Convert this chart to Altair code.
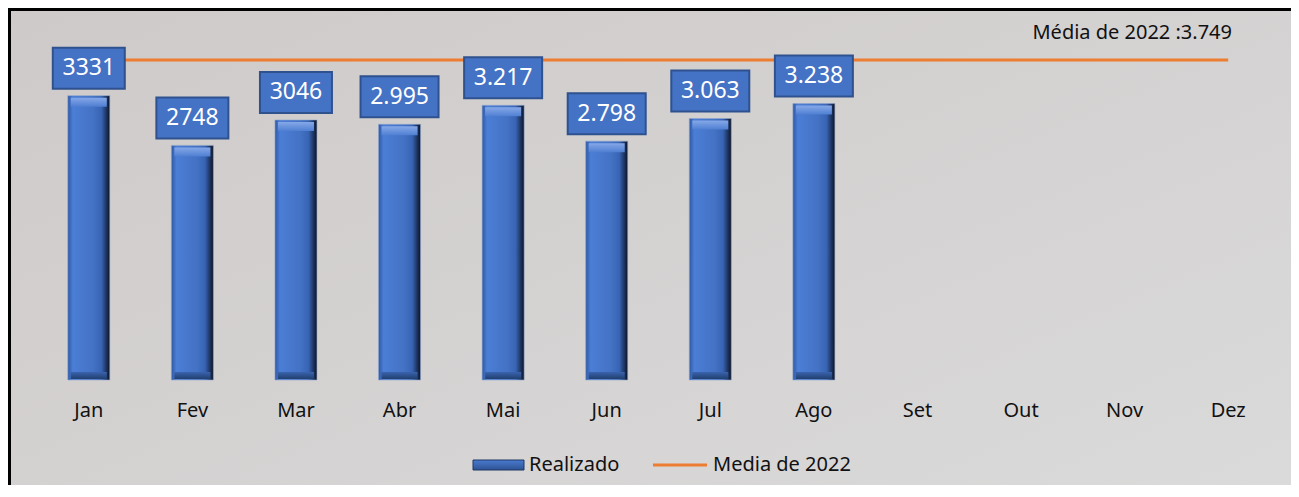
import altair as alt
import pandas as pd

meses = ["Jan", "Fev", "Mar", "Abr", "Mai", "Jun", "Jul", "Ago", "Set", "Out", "Nov", "Dez"]
meses_realizados = ["Jan", "Fev", "Mar", "Abr", "Mai", "Jun", "Jul", "Ago"]
realizado = [3331, 2748, 3046, 2995, 3217, 2798, 3063, 3238]
rotulos = ["3331", "2748", "3046", "2.995", "3.217", "2.798", "3.063", "3.238"]
media_2022 = 3749
media_rotulo = "Média de 2022 :3.749"

df_bar = pd.DataFrame({"mes": meses_realizados, "valor": realizado, "rotulo": rotulos})
df_media = pd.DataFrame({"mes": meses, "media": [media_2022] * len(meses)})
df_one = pd.DataFrame({"k": [0]})

W, H = 1243, 360
FONT = "Noto Sans"

x_enc = alt.X(
    "mes:N",
    sort=meses,
    scale=alt.Scale(domain=meses, paddingInner=0, paddingOuter=0),
    axis=alt.Axis(title=None, labelAngle=0, ticks=False, tickSize=0, domain=False, zindex=1,
                  labelFontSize=20, labelFont=FONT, labelFontWeight="normal",
                  labelColor="#111111", labelPadding=20),
)
y_scale = alt.Scale(domain=[0, 4217], nice=False, zero=True)

bg = alt.Chart(df_one).mark_rect(
    fill=alt.Gradient(gradient="linear", x1=0, y1=0, x2=1, y2=1,
                      stops=[alt.GradientStop(color="#CECAC9", offset=0),
                             alt.GradientStop(color="#DCDCDC", offset=1)]),
    stroke="#000000", strokeWidth=3,
).encode(x=alt.value(-27.5), x2=alt.value(W + 60), y=alt.value(-10.5), y2=alt.value(H + 200))

bar_grad = alt.Gradient(
    gradient="linear", x1=0, y1=0, x2=1, y2=0,
    stops=[alt.GradientStop(color="#2F58A3", offset=0),
           alt.GradientStop(color="#4B7ED6", offset=0.12),
           alt.GradientStop(color="#4472C4", offset=0.6),
           alt.GradientStop(color="#3864B4", offset=0.8),
           alt.GradientStop(color="#1B2F57", offset=0.93),
           alt.GradientStop(color="#0B1426", offset=1)],
)

bars = alt.Chart(df_bar).mark_bar(size=42, color=bar_grad, stroke="#8FA6CF", strokeWidth=0.6).encode(
    x=x_enc, y=alt.Y("valor:Q", scale=y_scale, axis=None)
)

bevel_top = alt.Chart(df_bar).mark_bar(
    size=36,
    color=alt.Gradient(gradient="linear", x1=0, y1=0, x2=0, y2=1,
                       stops=[alt.GradientStop(color="#86A8E8", offset=0),
                              alt.GradientStop(color="#4F7FD2", offset=1)]),
    yOffset=2, y2Offset=11,
).encode(x=x_enc, y=alt.Y("valor:Q", scale=y_scale, axis=None), y2="valor:Q")

bevel_bot = alt.Chart(df_bar).mark_bar(
    size=36,
    color=alt.Gradient(gradient="linear", x1=0, y1=0, x2=0, y2=1,
                       stops=[alt.GradientStop(color="#3A63AE", offset=0),
                              alt.GradientStop(color="#22406F", offset=1)]),
    yOffset=-8, y2Offset=-1,
).encode(x=x_enc, y=alt.Y(datum=0, scale=y_scale, axis=None), y2=alt.Y2(datum=0))

line = alt.Chart(df_media).mark_line(color="#ED7D31", strokeWidth=3).encode(
    x=x_enc, y=alt.Y("media:Q", scale=y_scale, axis=None)
)

boxes = alt.Chart(df_bar).transform_calculate(
    bw="indexof(datum.rotulo, '.') >= 0 ? 78 : 72"
).mark_bar(color="#4472C4", stroke="#2F528F", strokeWidth=2, yOffset=-48, y2Offset=-7).encode(
    x=x_enc,
    y=alt.Y("valor:Q", scale=y_scale, axis=None),
    y2="valor:Q",
    size=alt.Size("bw:Q", scale=None, legend=None),
)

labels = alt.Chart(df_bar).mark_text(
    color="white", fontSize=23, font=FONT, fontWeight="normal",
    baseline="middle", align="center", dy=-27.5
).encode(x=x_enc, y=alt.Y("valor:Q", scale=y_scale, axis=None), text="rotulo:N")

annot = alt.Chart(df_one).mark_text(
    text=media_rotulo, fontSize=20, font=FONT, fontWeight="normal", color="#111111",
    align="right", baseline="middle"
).encode(x=alt.value(1195), y=alt.value(13))

# legend
leg_bar = alt.Chart(df_one).mark_rect(
    fill=alt.Gradient(gradient="linear", x1=0, y1=0, x2=0, y2=1,
                      stops=[alt.GradientStop(color="#4A7BD0", offset=0),
                             alt.GradientStop(color="#2E5394", offset=1)]),
    stroke="#1F3864", strokeWidth=1,
).encode(x=alt.value(436), x2=alt.value(487), y=alt.value(440), y2=alt.value(450))
leg_bar_txt = alt.Chart(df_one).mark_text(
    text="Realizado", fontSize=20, font=FONT, fontWeight="normal", color="#111111",
    align="left", baseline="middle"
).encode(x=alt.value(492), y=alt.value(445))
leg_line = alt.Chart(df_one).mark_rule(color="#ED7D31", strokeWidth=3).encode(
    x=alt.value(616), x2=alt.value(670), y=alt.value(445)
)
leg_line_txt = alt.Chart(df_one).mark_text(
    text="Media de 2022", fontSize=20, font=FONT, fontWeight="normal", color="#111111",
    align="left", baseline="middle"
).encode(x=alt.value(676), y=alt.value(445))

chart = alt.layer(
    bg, line, bars, bevel_top, bevel_bot, boxes, labels, annot,
    leg_bar, leg_bar_txt, leg_line, leg_line_txt,
).properties(
    width=W, height=H,
    autosize=alt.AutoSizeParams(type="none"),
    padding={"left": 29, "top": 12, "right": 11, "bottom": 105},
).configure_view(stroke=None).configure(background="white")

chart.save("out.html", embed_options={"renderer": "svg", "actions": False})
